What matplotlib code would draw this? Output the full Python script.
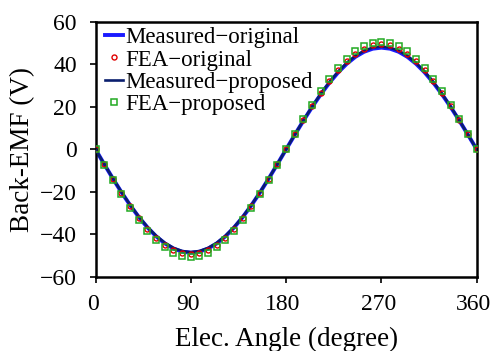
import numpy as np
import matplotlib
matplotlib.use("Agg")
import matplotlib.pyplot as plt
from matplotlib.transforms import ScaledTranslation

plt.rcParams['font.family'] = ['Liberation Serif', 'DejaVu Serif']

# electrical angle samples (degrees), 44 steps per period
angle = np.linspace(0, 360, 45)

measured_original = [
    0, -6.92, -13.69, -20.19, -26.27, -31.83, -36.73, -40.89, -44.21, -46.63, -48.10, -48.60,
    -48.10, -46.63, -44.21, -40.89, -36.73, -31.83, -26.27, -20.19, -13.69, -6.92, 0,
    6.80, 13.47, 19.86, 25.84, 31.30, 36.12, 40.21, 43.48, 45.86, 47.31, 47.80,
    47.31, 45.86, 43.48, 40.21, 36.12, 31.30, 25.84, 19.86, 13.47, 6.80, 0,
]
fea_original = [
    0, -7.03, -13.92, -20.52, -26.71, -32.35, -37.33, -41.56, -44.93, -47.40, -48.90, -49.40,
    -48.90, -47.40, -44.93, -41.56, -37.33, -32.35, -26.71, -20.52, -13.92, -7.03, 0,
    7.03, 13.92, 20.52, 26.71, 32.35, 37.33, 41.56, 44.93, 47.40, 48.90, 49.40,
    48.90, 47.40, 44.93, 41.56, 37.33, 32.35, 26.71, 20.52, 13.92, 7.03, 0,
]
measured_proposed = [
    0, -6.87, -13.61, -20.06, -26.11, -31.63, -36.50, -40.63, -43.93, -46.34, -47.81, -48.30,
    -47.81, -46.34, -43.93, -40.63, -36.50, -31.63, -26.11, -20.06, -13.61, -6.87, 0,
    6.87, 13.61, 20.06, 26.11, 31.63, 36.50, 40.63, 43.93, 46.34, 47.81, 48.30,
    47.81, 46.34, 43.93, 40.63, 36.50, 31.63, 26.11, 20.06, 13.61, 6.87, 0,
]
fea_proposed = [
    0, -7.20, -14.25, -21.02, -27.35, -33.14, -38.24, -42.57, -46.03, -48.55, -50.08, -50.60,
    -50.08, -48.55, -46.03, -42.57, -38.24, -33.14, -27.35, -21.02, -14.25, -7.20, 0,
    7.20, 14.25, 21.02, 27.35, 33.14, 38.24, 42.57, 46.03, 48.55, 50.08, 50.60,
    50.08, 48.55, 46.03, 42.57, 38.24, 33.14, 27.35, 21.02, 14.25, 7.20, 0,
]

x_ticks = [0, 90, 180, 270, 360]
y_ticks = [-60, -40, -20, 0, 20, 40, 60]

fig = plt.figure(figsize=(4.92, 3.51), dpi=100)
ax = fig.add_axes([95.5 / 492, 1 - 277 / 351, (476.7 - 95.5) / 492, (277 - 21.7) / 351])

ax.plot(angle, measured_original, color='#1a1aff', lw=2.8, label='Measured\u2212original', zorder=2)
ax.plot(angle, fea_original, ls='none', marker='o', ms=3.6, mfc='none', mec='#e00000',
        mew=1.0, label='FEA\u2212original', zorder=4)
ax.plot(angle, measured_proposed, color='#0a1e6e', lw=1.9, label='Measured\u2212proposed', zorder=3)
ax.plot(angle, fea_proposed, ls='none', marker='s', ms=4.8, mfc='none', mec='#22aa22',
        mew=1.1, label='FEA\u2212proposed', zorder=5)

ax.set_xlim(0, 360)
ax.set_ylim(-60, 60)
ax.set_xticks(x_ticks)
ax.set_yticks(y_ticks)
ax.tick_params(direction='out', length=4, width=1.2, labelsize=17)
ax.tick_params(axis='x', pad=8)
ax.tick_params(axis='y', pad=9.5)
for s in ax.spines.values():
    s.set_linewidth(1.8)

# nudge the angle labels slightly left so the last one stays inside the figure
shift = ScaledTranslation(-3 / 100, 0, fig.dpi_scale_trans)
for lbl in ax.get_xticklabels():
    lbl.set_transform(lbl.get_transform() + shift)

ax.set_xlabel('Elec. Angle (degree)', fontsize=19.5, labelpad=9)
ax.set_ylabel('Back-EMF (V)', fontsize=19.5, labelpad=3)

leg = ax.legend(loc='upper left', bbox_to_anchor=(0.02, 0.988), frameon=False, fontsize=16.5,
                handlelength=0.75, handletextpad=0.12, labelspacing=0.06, borderaxespad=0.0,
                borderpad=0.1, markerscale=1.0)

fig.savefig('out.png', dpi=100)
